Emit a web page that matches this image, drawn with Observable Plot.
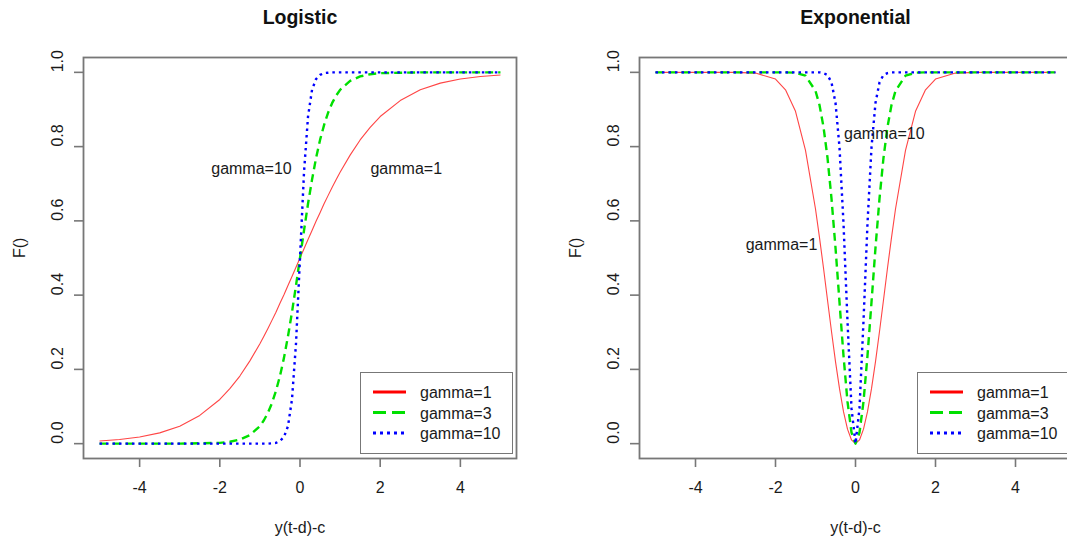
<!DOCTYPE html>
<html>
<head>
<meta charset="utf-8">
<script src="https://cdn.jsdelivr.net/npm/d3@7"></script>
<script src="https://cdn.jsdelivr.net/npm/@observablehq/plot@0.6"></script>
<style>
  html, body { margin: 0; padding: 0; background: #fff; }
  #root { position: relative; width: 1067px; height: 545px; overflow: hidden; background: #fff;
          font-family: "Liberation Sans", Arial, sans-serif; color: #1a1a1a; }
  .panel { position: absolute; top: 0; width: 540px; height: 545px; }
  .panel svg { max-width: none !important; }
  .legend { position: absolute; box-sizing: border-box; border: 1.5px solid #777; background: #fff; }
</style>
</head>
<body>
<div id="root"></div>
<script>
// ---- data ----
const xs = [-5,-4.5,-4,-3.5,-3,-2.5,-2,-1.75,-1.5,-1.25,-1,-0.9,-0.8,-0.7,-0.6,-0.5,-0.4,-0.3,-0.2,-0.1,0,0.1,0.2,0.3,0.4,0.5,0.6,0.7,0.8,0.9,1,1.25,1.5,1.75,2,2.5,3,3.5,4,4.5,5];

const logistic1  = [0.007,0.011,0.018,0.029,0.047,0.076,0.119,0.148,0.182,0.223,0.269,0.289,0.310,0.332,0.354,0.378,0.401,0.426,0.450,0.475,0.500,0.525,0.550,0.574,0.599,0.622,0.646,0.668,0.690,0.711,0.731,0.777,0.818,0.852,0.881,0.924,0.953,0.971,0.982,0.989,0.993];
const logistic3  = [0,0,0,0,0,0.001,0.002,0.005,0.011,0.023,0.047,0.063,0.083,0.109,0.142,0.182,0.231,0.289,0.354,0.426,0.500,0.574,0.646,0.711,0.769,0.818,0.858,0.891,0.917,0.937,0.953,0.977,0.989,0.995,0.998,0.999,1,1,1,1,1];
const logistic10 = [0,0,0,0,0,0,0,0,0,0,0,0,0,0.001,0.002,0.007,0.018,0.047,0.119,0.269,0.500,0.731,0.881,0.953,0.982,0.993,0.998,0.999,1,1,1,1,1,1,1,1,1,1,1,1,1];

const exponential1  = [1,1,1,1,1,0.998,0.982,0.953,0.895,0.790,0.632,0.555,0.473,0.387,0.302,0.221,0.148,0.086,0.039,0.010,0,0.010,0.039,0.086,0.148,0.221,0.302,0.387,0.473,0.555,0.632,0.790,0.895,0.953,0.982,0.998,1,1,1,1,1];
const exponential3  = [1,1,1,1,1,1,1,1,0.999,0.991,0.950,0.912,0.853,0.770,0.660,0.528,0.381,0.237,0.113,0.030,0,0.030,0.113,0.237,0.381,0.528,0.660,0.770,0.853,0.912,0.950,0.991,0.999,1,1,1,1,1,1,1,1];
const exponential10 = [1,1,1,1,1,1,1,1,1,1,1,1,0.998,0.993,0.973,0.918,0.798,0.593,0.330,0.095,0,0.095,0.330,0.593,0.798,0.918,0.973,0.993,0.998,1,1,1,1,1,1,1,1,1,1,1,1];

const seriesNames = ["gamma=1", "gamma=3", "gamma=10"];
const xTicks = [-4, -2, 0, 2, 4];
const yTicks = [0, 0.2, 0.4, 0.6, 0.8, 1];
const yTickLabels = ["0.0", "0.2", "0.4", "0.6", "0.8", "1.0"];
const xLabel = "y(t-d)-c";
const yLabel = "F()";

const logisticNotes = [{x: -1.21, y: 0.74, text: "gamma=10"}, {x: 2.65, y: 0.74, text: "gamma=1"}];
const exponentialNotes = [{x: 0.72, y: 0.835, text: "gamma=10"}, {x: -1.85, y: 0.535, text: "gamma=1"}];

// ---- styles ----
const styles = [
  {stroke: "#ff4545", legendStroke: "#ff0000", strokeWidth: 1.1, dash: null,  legendDash: null},
  {stroke: "#00e000", legendStroke: "#00e000", strokeWidth: 2.4, dash: "8,5", legendDash: "13,6"},
  {stroke: "#0000ff", legendStroke: "#0000ff", strokeWidth: 2.4, dash: "2.5,4", legendDash: "3,4"}
];
const axisColor = "#777";

function rows(vals) { return xs.map((x, i) => ({x, y: vals[i]})); }

function panel(title, seriesVals, notes, left, marginLeft, marginRight) {
  const lines = seriesVals.map((vals, i) => Plot.line(rows(vals), {
    x: "x", y: "y", stroke: styles[i].stroke, strokeWidth: styles[i].strokeWidth,
    strokeDasharray: styles[i].dash, strokeLinecap: "butt"
  }));
  const chart = Plot.plot({
    width: 540, height: 545,
    marginLeft, marginRight, marginTop: 57, marginBottom: 87,
    x: {domain: [-5.4, 5.4]},
    y: {domain: [-0.04, 1.04]},
    style: {fontFamily: "'Liberation Sans', Arial, sans-serif", fontSize: "16px", color: "#1a1a1a", background: "transparent", overflow: "visible", maxWidth: "none"},
    marks: [
      ...lines,
      Plot.frame({stroke: axisColor, strokeWidth: 1.8}),
      Plot.axisX({ticks: xTicks, tickSize: 9, tickFormat: () => "", label: null, stroke: axisColor, strokeWidth: 1.6}),
      Plot.axisY({ticks: yTicks, tickSize: 9, tickFormat: () => "", label: null, stroke: axisColor, strokeWidth: 1.6}),
      Plot.text(xTicks, {x: d => d, frameAnchor: "bottom", dy: 29, text: d => String(d), fontSize: 16, lineAnchor: "middle", fill: "#1a1a1a"}),
      Plot.text(yTicks, {y: d => d, frameAnchor: "left", dx: -26, rotate: -90, text: (d, i) => yTickLabels[i], fontSize: 16, lineAnchor: "middle", fill: "#1a1a1a"}),
      Plot.text(notes, {x: "x", y: "y", text: "text", fontSize: 16, lineAnchor: "middle", fill: "#1a1a1a"}),
      Plot.text([title], {frameAnchor: "top", dy: -40, text: d => d, fontSize: 19.5, fontWeight: "bold", lineAnchor: "middle", fill: "#111"}),
      Plot.text([xLabel], {frameAnchor: "bottom", dy: 69, text: d => d, fontSize: 16, lineAnchor: "middle", fill: "#1a1a1a"}),
      Plot.text([yLabel], {frameAnchor: "left", dx: -64, rotate: -90, text: d => d, fontSize: 16, lineAnchor: "middle", fill: "#1a1a1a"})
    ]
  });
  chart.style.maxWidth = "none";
  const div = document.createElement("div");
  div.className = "panel";
  div.style.left = left + "px";
  div.appendChild(chart);
  document.getElementById("root").appendChild(div);
}

function legend(left, top, width, height, lineX, textX) {
  const div = document.createElement("div");
  div.className = "legend";
  Object.assign(div.style, {left: left + "px", top: top + "px", width: width + "px", height: height + "px"});
  document.getElementById("root").appendChild(div);
  const svg = d3.select(div).append("svg").attr("width", width).attr("height", height)
    .style("position", "absolute").style("left", "-1.5px").style("top", "-1.5px");
  const rowY = [20, 40.5, 61];
  seriesNames.forEach((name, i) => {
    svg.append("line").attr("x1", lineX).attr("x2", lineX + 33).attr("y1", rowY[i]).attr("y2", rowY[i])
      .attr("stroke", styles[i].legendStroke)
      .attr("stroke-width", 3)
      .attr("stroke-dasharray", styles[i].legendDash);
    svg.append("text").attr("x", textX).attr("y", rowY[i]).attr("dy", "0.4em")
      .attr("font-size", 16).attr("fill", "#1a1a1a")
      .attr("font-family", "'Liberation Sans', Arial, sans-serif").text(name);
  });
}

panel("Logistic", [logistic1, logistic3, logistic10], logisticNotes, 0, 83, 24);
panel("Exponential", [exponential1, exponential3, exponential10], exponentialNotes, 540, 99, 9);
legend(360, 372, 153, 82, 13, 60);
legend(917, 372, 153, 82, 13, 60);
</script>
</body>
</html>
